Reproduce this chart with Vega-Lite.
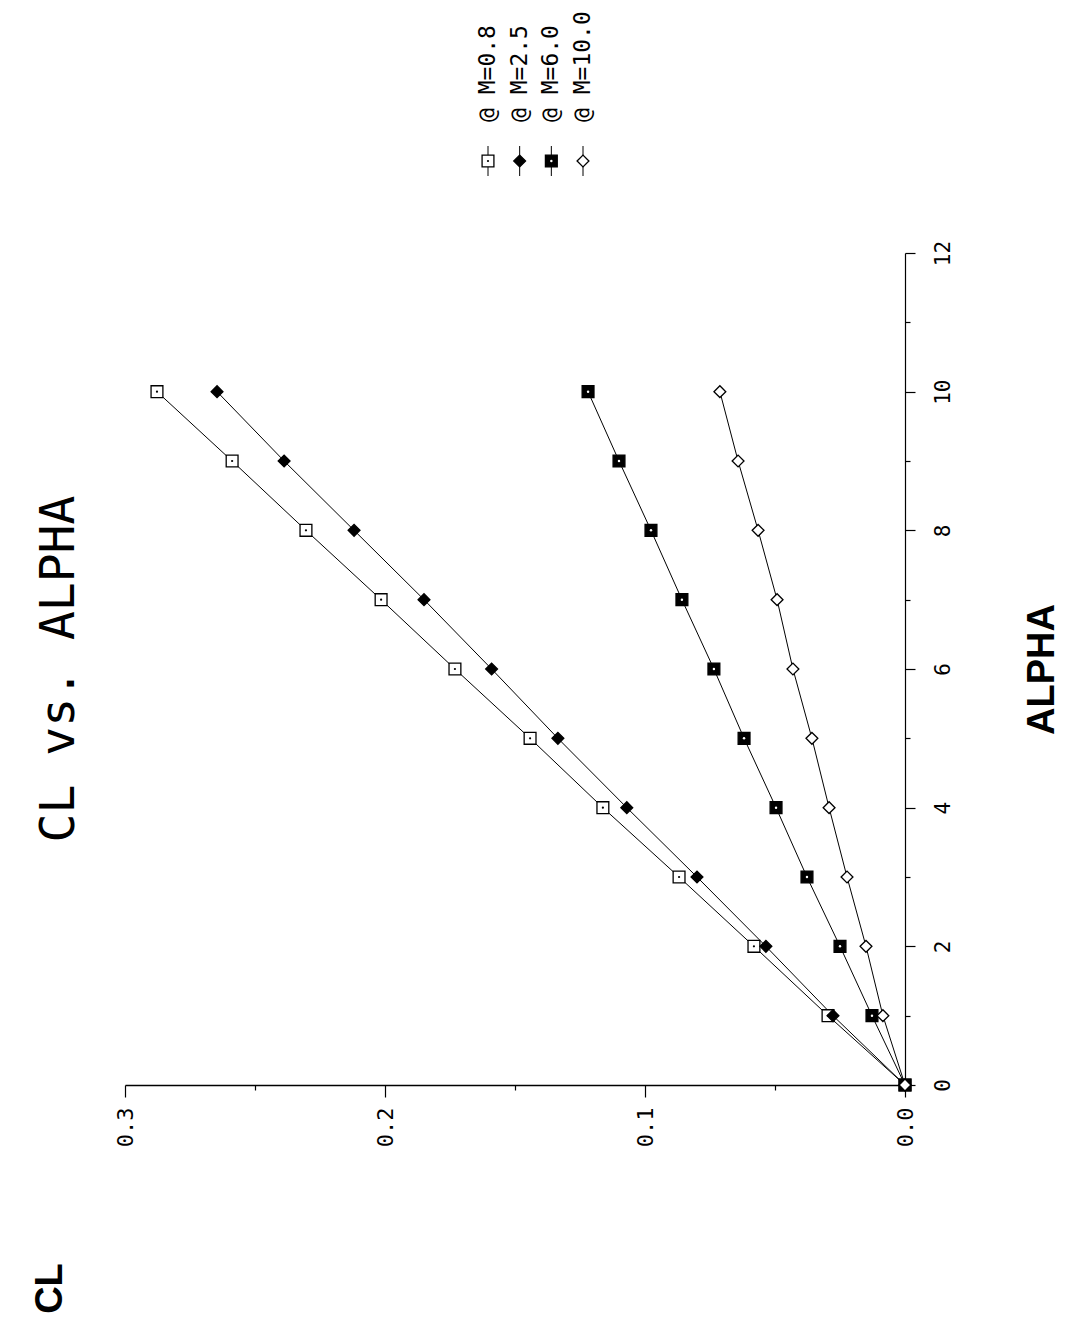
{
  "$schema": "https://vega.github.io/schema/vega-lite/v6.json",
  "background": "white",
  "padding": {"left": 31, "top": 11, "right": 5, "bottom": 5},
  "config": {"view": {"stroke": null}, "font": "DejaVu Sans Mono"},
  "datasets": {
    "curves": [
      {"series": "M=0.8", "alpha": 0, "cl": 0},
      {"series": "M=0.8", "alpha": 1, "cl": 0.0296},
      {"series": "M=0.8", "alpha": 2, "cl": 0.0581},
      {"series": "M=0.8", "alpha": 3, "cl": 0.0869},
      {"series": "M=0.8", "alpha": 4, "cl": 0.1162},
      {"series": "M=0.8", "alpha": 5, "cl": 0.1442},
      {"series": "M=0.8", "alpha": 6, "cl": 0.1731},
      {"series": "M=0.8", "alpha": 7, "cl": 0.2015},
      {"series": "M=0.8", "alpha": 8, "cl": 0.2304},
      {"series": "M=0.8", "alpha": 9, "cl": 0.2588},
      {"series": "M=0.8", "alpha": 10, "cl": 0.2877},
      {"series": "M=2.5", "alpha": 0, "cl": 0},
      {"series": "M=2.5", "alpha": 1, "cl": 0.0277},
      {"series": "M=2.5", "alpha": 2, "cl": 0.0535},
      {"series": "M=2.5", "alpha": 3, "cl": 0.0800},
      {"series": "M=2.5", "alpha": 4, "cl": 0.1070},
      {"series": "M=2.5", "alpha": 5, "cl": 0.1335},
      {"series": "M=2.5", "alpha": 6, "cl": 0.1590},
      {"series": "M=2.5", "alpha": 7, "cl": 0.1850},
      {"series": "M=2.5", "alpha": 8, "cl": 0.2119},
      {"series": "M=2.5", "alpha": 9, "cl": 0.2388},
      {"series": "M=2.5", "alpha": 10, "cl": 0.2646},
      {"series": "M=6.0", "alpha": 0, "cl": 0},
      {"series": "M=6.0", "alpha": 1, "cl": 0.0127},
      {"series": "M=6.0", "alpha": 2, "cl": 0.0250},
      {"series": "M=6.0", "alpha": 3, "cl": 0.0377},
      {"series": "M=6.0", "alpha": 4, "cl": 0.0496},
      {"series": "M=6.0", "alpha": 5, "cl": 0.0619},
      {"series": "M=6.0", "alpha": 6, "cl": 0.0735},
      {"series": "M=6.0", "alpha": 7, "cl": 0.0858},
      {"series": "M=6.0", "alpha": 8, "cl": 0.0977},
      {"series": "M=6.0", "alpha": 9, "cl": 0.1100},
      {"series": "M=6.0", "alpha": 10, "cl": 0.1219},
      {"series": "M=10.0", "alpha": 0, "cl": 0},
      {"series": "M=10.0", "alpha": 1, "cl": 0.0085},
      {"series": "M=10.0", "alpha": 2, "cl": 0.0150},
      {"series": "M=10.0", "alpha": 3, "cl": 0.0223},
      {"series": "M=10.0", "alpha": 4, "cl": 0.0292},
      {"series": "M=10.0", "alpha": 5, "cl": 0.0358},
      {"series": "M=10.0", "alpha": 6, "cl": 0.0431},
      {"series": "M=10.0", "alpha": 7, "cl": 0.0492},
      {"series": "M=10.0", "alpha": 8, "cl": 0.0565},
      {"series": "M=10.0", "alpha": 9, "cl": 0.0642},
      {"series": "M=10.0", "alpha": 10, "cl": 0.0712}
    ],
    "legend": [
      {"series": "M=0.8", "label": "@ M=0.8"},
      {"series": "M=2.5", "label": "@ M=2.5"},
      {"series": "M=6.0", "label": "@ M=6.0"},
      {"series": "M=10.0", "label": "@ M=10.0"}
    ]
  },
  "resolve": {"scale": {"x": "independent", "y": "independent"}},
  "bounds": "flush",
  "spacing": 77,
  "vconcat": [
    {
      "width": 780,
      "height": 30,
      "data": {"name": "legend"},
      "encoding": {
        "x": {"field": "series", "type": "nominal",
              "scale": {"type": "point", "domain": ["M=0.8", "M=2.5", "M=6.0", "M=10.0"], "range": [363, 458], "padding": 0},
              "axis": null}
      },
      "layer": [
        {"mark": {"type": "rule", "color": "black", "strokeWidth": 1}, "encoding": {}},
        {"mark": {"type": "point", "filled": true, "stroke": "black", "strokeWidth": 1.3, "opacity": 1, "size": 140},
         "encoding": {
           "shape": {"field": "series", "type": "nominal", "scale": {"domain": ["M=0.8", "M=2.5", "M=6.0", "M=10.0"], "range": ["square", "diamond", "square", "diamond"]}, "legend": null},
           "fill": {"field": "series", "type": "nominal", "scale": {"domain": ["M=0.8", "M=2.5", "M=6.0", "M=10.0"], "range": ["white", "black", "black", "white"]}, "legend": null}
         }},
        {"transform": [{"filter": "datum.series == 'M=0.8'"}],
         "mark": {"type": "point", "filled": true, "shape": "circle", "size": 5, "color": "black", "opacity": 1}},
        {"transform": [{"filter": "datum.series == 'M=6.0'"}],
         "mark": {"type": "point", "filled": true, "shape": "circle", "size": 6, "color": "white", "opacity": 1}},
        {"mark": {"type": "text", "angle": 270, "align": "left", "baseline": "middle", "dx": 39, "fontSize": 23, "font": "DejaVu Sans Mono", "color": "black"},
         "encoding": {"text": {"field": "label"}}}
      ]
    },
    {
      "width": 780,
      "height": 832,
      "data": {"name": "curves"},
      "title": {"text": "CL vs. ALPHA", "orient": "left", "anchor": "middle", "fontSize": 48, "font": "DejaVu Sans Mono", "fontWeight": "normal", "color": "black", "offset": -53},
      "encoding": {
        "x": {"field": "cl", "type": "quantitative",
              "scale": {"domain": [0, 0.3], "reverse": true, "nice": false, "zero": false},
              "axis": {
                "orient": "bottom", "grid": false,
                "values": [0, 0.05, 0.1, 0.15, 0.2, 0.25, 0.3],
                "labelExpr": "abs(datum.value*10 - round(datum.value*10)) < 0.01 ? format(datum.value, '.1f') : ''",
                "labelAngle": 270, "labelFontSize": 22, "labelFont": "DejaVu Sans Mono", "labelColor": "black",
                "labelPadding": 10, "labelFlush": false, "labelOverlap": false,
                "tickSize": {"condition": {"test": "abs(datum.value*10 - round(datum.value*10)) < 0.01", "value": 12}, "value": 5},
                "tickColor": "black", "domainColor": "black", "domainWidth": 1.5, "tickWidth": 1.2,
                "title": "CL", "titleAngle": 270, "titleFontSize": 38, "titleFontWeight": "bold", "titleFont": "Liberation Sans",
                "titleColor": "black", "titleX": -75, "titleY": 203, "titleAlign": "center", "titleBaseline": "middle"
              }},
        "y": {"field": "alpha", "type": "quantitative",
              "scale": {"domain": [0, 12], "nice": false},
              "axis": {
                "orient": "right", "grid": false,
                "values": [0, 1, 2, 3, 4, 5, 6, 7, 8, 9, 10, 11, 12],
                "labelExpr": "datum.value % 2 == 0 ? datum.label : ''",
                "labelAngle": 270, "labelFontSize": 21, "labelFont": "DejaVu Sans Mono", "labelColor": "black",
                "labelPadding": 17, "labelFlush": false, "labelOverlap": false,
                "tickSize": {"condition": {"test": "datum.value % 2 == 0", "value": 10}, "value": 5},
                "tickColor": "black", "domainColor": "black", "domainWidth": 1.2, "tickWidth": 1.2,
                "title": "ALPHA", "titleAngle": 270, "titleFontSize": 38, "titleFontWeight": "bold", "titleFont": "Liberation Sans",
                "titleColor": "black", "titleBaseline": "top", "titlePadding": 70
              }}
      },
      "layer": [
        {"mark": {"type": "line", "color": "black", "strokeWidth": 1},
         "encoding": {"detail": {"field": "series"}, "order": {"field": "alpha"}}},
        {"mark": {"type": "point", "filled": true, "stroke": "black", "strokeWidth": 1.3, "opacity": 1, "size": 140},
         "encoding": {
           "shape": {"field": "series", "type": "nominal", "scale": {"domain": ["M=0.8", "M=2.5", "M=6.0", "M=10.0"], "range": ["square", "diamond", "square", "diamond"]}, "legend": null},
           "fill": {"field": "series", "type": "nominal", "scale": {"domain": ["M=0.8", "M=2.5", "M=6.0", "M=10.0"], "range": ["white", "black", "black", "white"]}, "legend": null}
         }},
        {"transform": [{"filter": "datum.series == 'M=0.8' && datum.alpha > 0"}],
         "mark": {"type": "point", "filled": true, "shape": "circle", "size": 5, "color": "black", "opacity": 1}},
        {"transform": [{"filter": "datum.series == 'M=6.0' && datum.alpha > 0"}],
         "mark": {"type": "point", "filled": true, "shape": "circle", "size": 6, "color": "white", "opacity": 1}}
      ]
    }
  ]
}
